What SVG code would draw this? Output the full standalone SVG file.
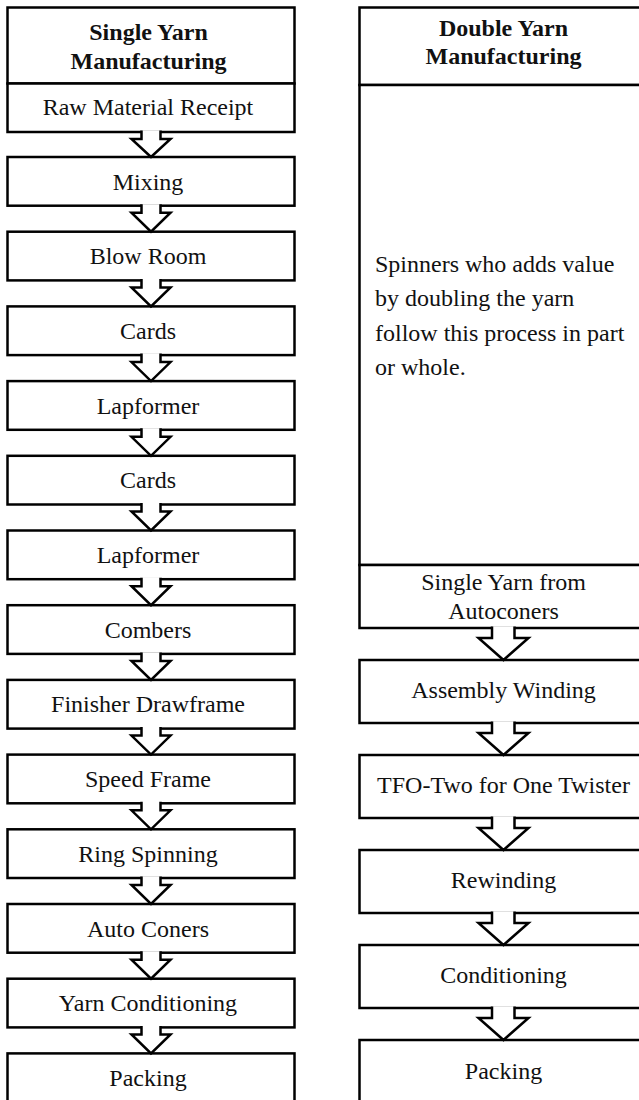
<svg xmlns="http://www.w3.org/2000/svg" width="639" height="1100" viewBox="0 0 639 1100">
<style>
.box{fill:#fff;stroke:#000;stroke-width:2.5}
.ln{stroke:#000;stroke-width:2.5;fill:none}
.arr{fill:#fff;stroke:#000;stroke-width:2.5;stroke-linejoin:miter}
text{font-family:"Liberation Serif","Times New Roman",serif;font-size:24px;fill:#111}
.c{text-anchor:middle}
.b{font-weight:bold}
</style>
<rect width="639" height="1100" fill="#fff"/>
<!-- Left column -->
<g id="single-header"><rect class="box" x="7.5" y="7.5" width="287" height="76"/>
<text class="c b" x="148.5" y="40">Single Yarn</text><text class="c b" x="148.5" y="68.5">Manufacturing</text></g>
<g id="raw-material"><rect class="box" x="7.5" y="83.5" width="287" height="48.5"/><text class="c" x="148" y="114.5">Raw Material Receipt</text></g>
<g id="mixing"><rect class="box" x="7.5" y="157" width="287" height="48.7"/><text class="c" x="148" y="189.5">Mixing</text></g>
<g id="blow-room"><rect class="box" x="7.5" y="231.7" width="287" height="48.7"/><text class="c" x="148" y="264.2">Blow Room</text></g>
<g id="cards-1"><rect class="box" x="7.5" y="306.4" width="287" height="48.7"/><text class="c" x="148" y="338.9">Cards</text></g>
<g id="lapformer-1"><rect class="box" x="7.5" y="381.1" width="287" height="48.7"/><text class="c" x="148" y="413.6">Lapformer</text></g>
<g id="cards-2"><rect class="box" x="7.5" y="455.8" width="287" height="48.7"/><text class="c" x="148" y="488.3">Cards</text></g>
<g id="lapformer-2"><rect class="box" x="7.5" y="530.5" width="287" height="48.7"/><text class="c" x="148" y="563">Lapformer</text></g>
<g id="combers"><rect class="box" x="7.5" y="605.2" width="287" height="48.7"/><text class="c" x="148" y="637.7">Combers</text></g>
<g id="finisher-drawframe"><rect class="box" x="7.5" y="679.9" width="287" height="48.7"/><text class="c" x="148" y="712.4">Finisher Drawframe</text></g>
<g id="speed-frame"><rect class="box" x="7.5" y="754.6" width="287" height="48.7"/><text class="c" x="148" y="787.1">Speed Frame</text></g>
<g id="ring-spinning"><rect class="box" x="7.5" y="829.3" width="287" height="48.7"/><text class="c" x="148" y="861.8">Ring Spinning</text></g>
<g id="auto-coners"><rect class="box" x="7.5" y="904" width="287" height="48.7"/><text class="c" x="148" y="936.5">Auto Coners</text></g>
<g id="yarn-conditioning"><rect class="box" x="7.5" y="978.7" width="287" height="48.7"/><text class="c" x="148" y="1011.2">Yarn Conditioning</text></g>
<g id="packing-1"><rect class="box" x="7.5" y="1053.4" width="287" height="60"/><text class="c" x="148" y="1085.5">Packing</text></g>
<!-- Right column -->
<g id="double-header"><rect class="box" x="359.5" y="7.5" width="300" height="77.5"/>
<text class="c b" x="503.5" y="35.5">Double Yarn</text><text class="c b" x="503.5" y="63.5">Manufacturing</text></g>
<g id="description"><rect class="box" x="359.5" y="85" width="300" height="480"/>
<text x="375" y="271.5">Spinners who adds value</text>
<text x="375" y="306">by doubling the yarn</text>
<text x="375" y="340.5">follow this process in part</text>
<text x="375" y="375">or whole.</text></g>
<g id="single-from-autoconers"><rect class="box" x="359.5" y="565" width="300" height="63"/>
<text class="c" x="503.5" y="590">Single Yarn from</text><text class="c" x="503.5" y="619">Autoconers</text></g>
<g id="assembly-winding"><rect class="box" x="359.5" y="660" width="300" height="63"/><text class="c" x="503.5" y="697.5">Assembly Winding</text></g>
<g id="tfo"><rect class="box" x="359.5" y="755" width="300" height="63"/><text class="c" x="503.5" y="792.5">TFO-Two for One Twister</text></g>
<g id="rewinding"><rect class="box" x="359.5" y="850" width="300" height="63"/><text class="c" x="503.5" y="887.5">Rewinding</text></g>
<g id="conditioning"><rect class="box" x="359.5" y="945" width="300" height="63"/><text class="c" x="503.5" y="982.5">Conditioning</text></g>
<g id="packing-2"><rect class="box" x="359.5" y="1040" width="300" height="70"/><text class="c" x="503.5" y="1078.5">Packing</text></g>
<!-- Connectors -->
<g id="connectors">
<path class="arr" d="M141.5,130.5 L141.5,139 L131.5,139 L151,157 L170.5,139 L160.5,139 L160.5,130.5"/>
<path class="arr" d="M141.5,204.2 L141.5,212.7 L131.5,212.7 L151,231.7 L170.5,212.7 L160.5,212.7 L160.5,204.2"/>
<path class="arr" d="M141.5,278.9 L141.5,287.4 L131.5,287.4 L151,306.4 L170.5,287.4 L160.5,287.4 L160.5,278.9"/>
<path class="arr" d="M141.5,353.6 L141.5,362.1 L131.5,362.1 L151,381.1 L170.5,362.1 L160.5,362.1 L160.5,353.6"/>
<path class="arr" d="M141.5,428.3 L141.5,436.8 L131.5,436.8 L151,455.8 L170.5,436.8 L160.5,436.8 L160.5,428.3"/>
<path class="arr" d="M141.5,503 L141.5,511.5 L131.5,511.5 L151,530.5 L170.5,511.5 L160.5,511.5 L160.5,503"/>
<path class="arr" d="M141.5,577.7 L141.5,586.2 L131.5,586.2 L151,605.2 L170.5,586.2 L160.5,586.2 L160.5,577.7"/>
<path class="arr" d="M141.5,652.4 L141.5,660.9 L131.5,660.9 L151,679.9 L170.5,660.9 L160.5,660.9 L160.5,652.4"/>
<path class="arr" d="M141.5,727.1 L141.5,735.6 L131.5,735.6 L151,754.6 L170.5,735.6 L160.5,735.6 L160.5,727.1"/>
<path class="arr" d="M141.5,801.8 L141.5,810.3 L131.5,810.3 L151,829.3 L170.5,810.3 L160.5,810.3 L160.5,801.8"/>
<path class="arr" d="M141.5,876.5 L141.5,885 L131.5,885 L151,904 L170.5,885 L160.5,885 L160.5,876.5"/>
<path class="arr" d="M141.5,951.2 L141.5,959.7 L131.5,959.7 L151,978.7 L170.5,959.7 L160.5,959.7 L160.5,951.2"/>
<path class="arr" d="M141.5,1025.9 L141.5,1034.4 L131.5,1034.4 L151,1053.4 L170.5,1034.4 L160.5,1034.4 L160.5,1025.9"/>
<path class="arr" d="M492,626.5 L492,638 L478.5,638 L503.5,660 L528.5,638 L514.5,638 L514.5,626.5"/>
<path class="arr" d="M492,721.5 L492,733 L478.5,733 L503.5,755 L528.5,733 L514.5,733 L514.5,721.5"/>
<path class="arr" d="M492,816.5 L492,828 L478.5,828 L503.5,850 L528.5,828 L514.5,828 L514.5,816.5"/>
<path class="arr" d="M492,911.5 L492,923 L478.5,923 L503.5,945 L528.5,923 L514.5,923 L514.5,911.5"/>
<path class="arr" d="M492,1006.5 L492,1018 L478.5,1018 L503.5,1040 L528.5,1018 L514.5,1018 L514.5,1006.5"/>
</g>
</svg>
